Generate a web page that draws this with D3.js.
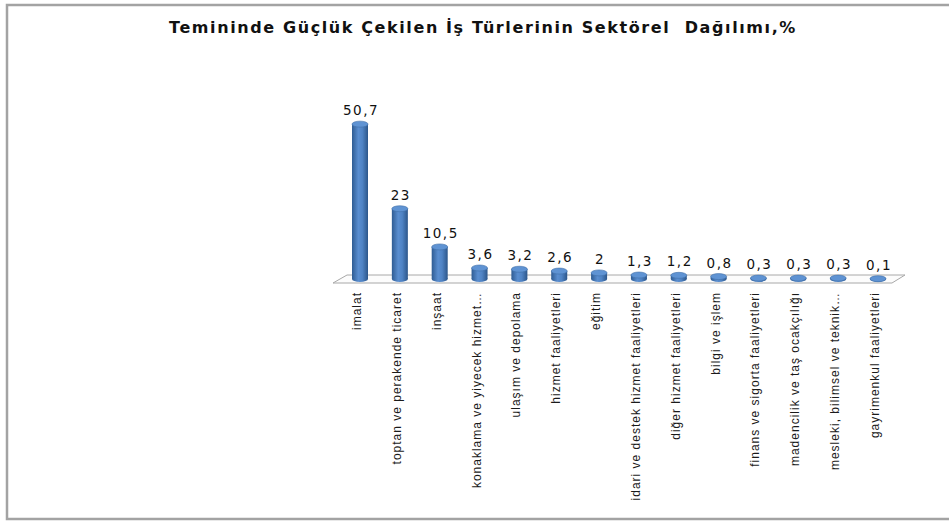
<!DOCTYPE html>
<html>
<head>
<meta charset="utf-8">
<script src="https://cdn.jsdelivr.net/npm/d3@7"></script>
<style>
  body { margin: 0; background: #fff; }
  svg { display: block; }
</style>
</head>
<body>
<svg id="chart" width="949" height="521"></svg>
<script>
const title = "Temininde Güçlük Çekilen İş Türlerinin Sektörel  Dağılımı,%";

const sectors = [
  "imalat",
  "toptan ve perakende ticaret",
  "inşaat",
  "konaklama ve yiyecek hizmet…",
  "ulaşım ve depolama",
  "hizmet faaliyetleri",
  "eğitim",
  "idari ve destek hizmet faaliyetleri",
  "diğer hizmet faaliyetleri",
  "bilgi ve işlem",
  "finans ve sigorta faaliyetleri",
  "madencilik ve taş ocakçılığı",
  "mesleki, bilimsel ve teknik…",
  "gayrimenkul faaliyetleri"
];

const shares = [50.7, 23, 10.5, 3.6, 3.2, 2.6, 2, 1.3, 1.2, 0.8, 0.3, 0.3, 0.3, 0.1];
const shareLabels = ["50,7", "23", "10,5", "3,6", "3,2", "2,6", "2", "1,3", "1,2", "0,8", "0,3", "0,3", "0,3", "0,1"];

const svg = d3.select("#chart");

// outer frame (right edge runs off the picture)
svg.append("rect")
  .attr("x", 7).attr("y", 5)
  .attr("width", 980).attr("height", 514)
  .attr("fill", "none")
  .attr("stroke", "#a3a3a3")
  .attr("stroke-width", 2.5);

svg.append("text")
  .attr("x", 483).attr("y", 33)
  .attr("text-anchor", "middle")
  .attr("font-family", "DejaVu Sans, sans-serif")
  .attr("font-weight", "bold")
  .attr("font-size", "16px")
  .attr("letter-spacing", "1.6px")
  .attr("fill", "#111")
  .style("white-space", "pre")
  .text(title);

const x = d3.scalePoint().domain(sectors).range([360, 878]);
const y = d3.scaleLinear().domain([0, 55]).range([279, 111]);

const barW = 16;
const capRy = 3;

const defs = svg.append("defs");
const grad = defs.append("linearGradient").attr("id", "cyl")
  .attr("x1", "0%").attr("x2", "100%").attr("y1", "0%").attr("y2", "0%");
grad.append("stop").attr("offset", "0%").attr("stop-color", "#2f5c93");
grad.append("stop").attr("offset", "40%").attr("stop-color", "#5a8ed0");
grad.append("stop").attr("offset", "65%").attr("stop-color", "#4f83c4");
grad.append("stop").attr("offset", "100%").attr("stop-color", "#2c568a");

// floor
const floorY = y(0);
svg.append("path")
  .attr("d", `M333,${floorY + 4} L347,${floorY - 4} L905,${floorY - 4} L892,${floorY + 4} Z`)
  .attr("fill", "#fcfcfc")
  .attr("stroke", "#a8a8a8")
  .attr("stroke-width", 1);

const bars = svg.append("g").selectAll("g")
  .data(sectors)
  .join("g");

bars.append("rect")
  .attr("x", d => x(d) - barW / 2)
  .attr("y", (d, i) => y(shares[i]))
  .attr("width", barW)
  .attr("height", (d, i) => y(0) - y(shares[i]))
  .attr("fill", "url(#cyl)");

bars.append("ellipse")
  .attr("cx", d => x(d))
  .attr("cy", y(0))
  .attr("rx", barW / 2)
  .attr("ry", capRy)
  .attr("fill", "url(#cyl)");

bars.append("ellipse")
  .attr("cx", d => x(d))
  .attr("cy", (d, i) => y(shares[i]))
  .attr("rx", barW / 2)
  .attr("ry", capRy)
  .attr("fill", "#5f93d3")
  .attr("stroke", "#3f6fa8")
  .attr("stroke-width", 0.6);

bars.append("text")
  .attr("x", d => x(d) + 1)
  .attr("y", (d, i) => y(shares[i]) - 9)
  .attr("text-anchor", "middle")
  .attr("font-family", "DejaVu Sans, sans-serif")
  .attr("font-size", "13.5px")
  .attr("letter-spacing", "1.5px")
  .attr("fill", "#111")
  .text((d, i) => shareLabels[i]);

bars.append("text")
  .attr("transform", d => `translate(${x(d) + 1},292) rotate(-90)`)
  .attr("text-anchor", "end")
  .attr("font-family", "Liberation Sans, Arial, sans-serif")
  .attr("font-size", "12px")
  .attr("letter-spacing", "1px")
  .attr("fill", "#1a1a1a")
  .text(d => d);
</script>
</body>
</html>
